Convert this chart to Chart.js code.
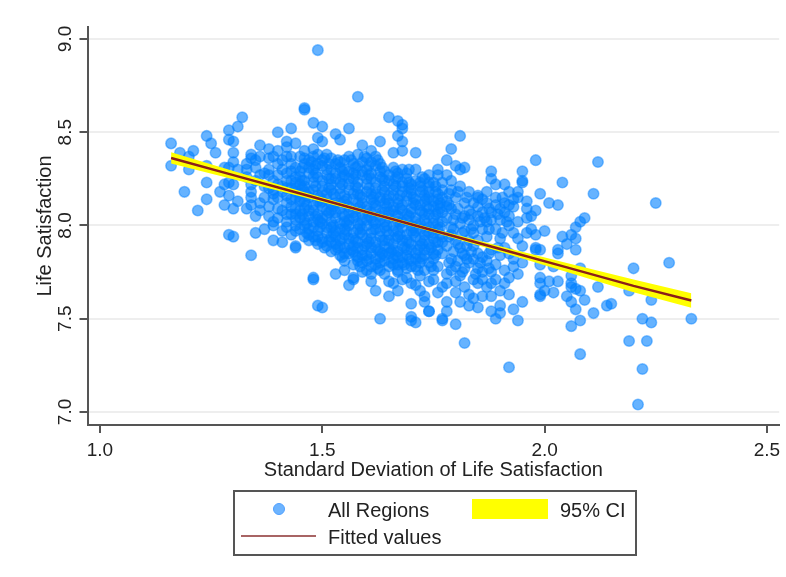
<!DOCTYPE html>
<html>
<head>
<meta charset="utf-8">
<script src="https://cdn.jsdelivr.net/npm/chart.js@4"></script>
<style>
body { margin: 0; background: #fff; font-family: "Liberation Sans", Arial, sans-serif; color: #222; }
#wrap { position: relative; width: 786px; height: 577px; }
#legend { position: absolute; left: 233px; top: 490px; width: 400px; height: 62px; border: 2px solid #555; }
#legend span { position: absolute; font-size: 20px; line-height: 20px; white-space: nowrap; }
.dot { left: 38px; top: 11px; width: 10px; height: 10px; border-radius: 50%; background: #6db4ff; border: 1px solid #4f9fff; }
.ci { left: 237px; top: 7px; width: 76px; height: 20px; background: #ffff00; }
.fit { left: 6px; top: 43px; width: 75px; height: 2px; background: #a86464; }
</style>
</head>
<body>
<div id="wrap">
<canvas id="scatterChart" width="786" height="577"></canvas>
<div id="legend">
  <span class="dot"></span><span style="left:93px;top:8px">All Regions</span>
  <span class="ci"></span><span style="left:325px;top:8px">95% CI</span>
  <span class="fit"></span><span style="left:93px;top:35px">Fitted values</span>
</div>
</div>
<script>
// ticks
const xTicks = [1.0, 1.5, 2.0, 2.5];
const yTicks = [7.0, 7.5, 8.0, 8.5, 9.0];

// fitted line and confidence band
const fitX =    [1.16, 1.30, 1.45, 1.60, 1.75, 1.90, 2.05, 2.20, 2.33];
const fitY =    [8.362, 8.270, 8.171, 8.072, 7.973, 7.874, 7.775, 7.676, 7.598];
const ciLower = [8.332, 8.248, 8.157, 8.063, 7.964, 7.859, 7.751, 7.642, 7.559];
const ciUpper = [8.392, 8.292, 8.185, 8.081, 7.982, 7.889, 7.799, 7.710, 7.637];

// All regions: [sd, life satisfaction]
const outerPoints = [
  [1.49,8.94],[1.58,8.69],[1.46,8.63],[1.46,8.62],[1.32,8.58],[1.31,8.53],[1.29,8.51],[1.29,8.46],[1.30,8.45],
  [1.24,8.48],[1.25,8.44],[1.26,8.39],[1.16,8.44],[1.18,8.39],[1.21,8.40],[1.20,8.37],[1.16,8.32],[1.20,8.30],
  [1.24,8.32],[1.24,8.23],[1.19,8.18],[1.24,8.14],[1.22,8.08],[1.27,8.18],[1.28,8.22],[1.30,8.22],[1.29,8.23],
  [1.29,8.16],[1.28,8.11],[1.30,8.09],[1.31,8.13],[1.33,8.09],[1.35,8.05],[1.36,8.08],[1.34,8.18],[1.34,8.15],
  [1.39,8.17],[1.40,8.50],[1.43,8.52],[1.48,8.55],[1.50,8.53],[1.56,8.52],[1.53,8.49],[1.54,8.46],[1.49,8.47],
  [1.50,8.45],[1.42,8.45],[1.44,8.44],[1.42,8.42],[1.36,8.43],[1.38,8.41],[1.40,8.40],[1.30,8.39],[1.34,8.38],
  [1.59,8.43],[1.61,8.40],[1.63,8.45],[1.65,8.58],[1.67,8.56],[1.68,8.54],[1.68,8.52],[1.67,8.48],[1.68,8.45],
  [1.66,8.39],[1.68,8.40],[1.71,8.39],[1.46,8.40],[1.48,8.41],[1.51,8.38],[1.29,7.95],[1.30,7.94],[1.35,7.96],
  [1.34,7.84],[1.39,7.92],[1.41,7.91],[1.44,7.89],[1.44,7.88],[1.44,8.00],[1.39,8.02],[1.47,7.92],[1.48,7.72],
  [1.48,7.71],[1.49,7.57],[1.50,7.56],[1.53,7.74],[1.55,7.76],[1.56,7.68],[1.57,7.72],[1.57,7.71],[1.61,7.70],
  [1.62,7.65],[1.65,7.62],[1.67,7.65],[1.63,7.50],[1.65,7.70],[1.66,7.69],[1.68,7.71],[1.67,7.76],[1.67,7.75],
  [1.70,7.58],[1.70,7.51],[1.70,7.49],[1.71,7.48],[1.70,7.69],[1.71,7.68],[1.72,7.65],[1.73,7.62],[1.73,7.59],
  [1.74,7.54],[1.63,7.76],[1.60,7.76],[1.61,7.74]
];
const rightPoints = [
  [1.81,8.48],[1.79,8.41],[1.78,8.35],[1.80,8.32],[1.82,8.31],[1.76,8.30],[1.76,8.27],[1.81,8.30],[1.98,8.35],
  [2.12,8.34],[1.88,8.29],[1.95,8.29],[1.88,8.25],[1.95,8.24],[1.95,8.23],[1.89,8.22],[1.91,8.22],[2.04,8.23],
  [1.87,8.18],[1.83,8.18],[1.85,8.16],[1.85,8.15],[1.92,8.18],[1.94,8.18],[1.99,8.17],[2.11,8.17],[2.25,8.12],
  [2.01,8.12],[2.03,8.11],[1.96,8.13],[1.96,8.09],[1.98,8.08],[1.97,8.05],[1.96,8.04],[2.09,8.04],[2.08,8.02],
  [2.07,7.99],[2.00,7.97],[1.97,7.98],[1.96,7.96],[1.98,7.95],[1.94,7.93],[2.04,7.94],[2.06,7.95],[2.07,7.93],
  [2.05,7.90],[2.07,7.87],[2.03,7.87],[2.03,7.85],[1.99,7.87],[1.98,7.88],[1.98,7.87],[1.95,7.89],[2.28,7.80],
  [2.20,7.77],[2.08,7.77],[2.02,7.78],[1.99,7.79],[1.95,7.80],[2.06,7.73],[1.99,7.72],[1.99,7.69],[2.01,7.70],
  [2.03,7.70],[2.06,7.69],[2.07,7.66],[2.08,7.65],[2.06,7.67],[2.02,7.64],[2.00,7.65],[1.99,7.62],[1.99,7.63],
  [2.05,7.62],[2.06,7.59],[2.09,7.60],[2.12,7.67],[2.19,7.65],[2.24,7.60],[2.15,7.58],[2.14,7.57],[2.07,7.55],
  [2.11,7.53],[2.22,7.50],[2.24,7.48],[2.33,7.50],[2.08,7.49],[2.06,7.46],[2.19,7.38],[2.23,7.38],[2.08,7.31],
  [2.22,7.23],[2.21,7.04],[1.92,7.24],[1.82,7.37],[1.80,7.47],[1.77,7.49],[1.77,7.50],[1.94,7.49],[1.89,7.50],
  [1.93,7.55],[1.95,7.59],[1.90,7.53],[1.88,7.54],[1.90,7.57],[1.85,7.56],[1.83,7.57],[1.81,7.59],[1.78,7.54],
  [1.78,7.59],[1.74,7.54],[1.92,7.63],[1.90,7.65],[1.88,7.62],[1.86,7.62],[1.84,7.61],[1.83,7.63],[1.80,7.64],
  [1.76,7.64],[1.91,7.69],[1.87,7.67],[1.77,7.67],[1.94,7.74],[1.89,7.71],[1.86,7.71],[1.84,7.71],[1.82,7.67],
  [1.81,7.73],[1.75,7.71],[1.93,7.78],[1.91,7.76],[1.88,7.75],[1.85,7.77],[1.83,7.80],[1.80,7.78],[1.78,7.74],
  [1.76,7.78],[1.93,7.82],[1.90,7.84],[1.87,7.81],[1.85,7.85],[1.82,7.84],[1.79,7.82],[1.77,7.85],[1.75,7.82],
  [1.84,7.89],[1.81,7.88],[1.78,7.89],[1.76,7.91],[1.88,7.87],[1.91,7.88],[1.83,7.92],[1.80,7.92],
  [1.93,8.14],[1.91,8.12],[1.89,8.15],[1.87,8.12],[1.90,8.09],[1.93,8.10],[1.88,8.07],[1.92,8.05],[1.90,8.03],
  [1.94,8.02],[1.87,8.02],[1.85,8.05],[1.83,8.08],[1.82,8.12],[1.80,8.15],[1.79,8.19],[1.81,8.21],[1.77,8.23],
  [1.85,8.10],[1.83,8.03],[1.80,8.06],[1.78,8.13],[1.76,8.17],[1.74,8.21],[1.92,8.00],[1.89,7.98],[1.86,7.98],
  [1.93,7.96],[1.84,8.00],[1.81,8.01],[1.78,8.04],
  [1.86,8.14],[1.84,8.12],[1.92,8.11],[1.94,8.15],[1.89,8.11],[1.86,8.07],[1.91,8.07],[1.82,8.05],[1.88,8.03],
  [1.84,7.96],[1.82,7.97],[1.87,7.94],[1.90,7.93],[1.85,7.92],[1.92,7.85],[1.86,7.83],[1.89,7.79],[1.84,7.82],
  [1.82,7.77],[1.79,7.76],[1.86,7.75],[1.92,7.72],[1.85,7.69],[1.80,7.70],[1.88,7.69],[1.78,7.69],
  [1.785,8.17],[1.805,8.18],[1.785,8.11],[1.805,8.09],[1.825,8.15],[1.815,8.04],[1.795,8.03],[1.835,8.06],[1.855,8.02],
  [1.795,7.98],[1.815,7.96],[1.835,7.98],[1.785,7.94],[1.805,7.90],[1.825,7.89],[1.795,7.86],[1.815,7.85],[1.835,7.86],
  [1.785,7.80],[1.805,7.81],[1.825,7.82],[1.855,7.80],[1.875,7.85],[1.895,7.88],[1.875,7.77],[1.845,7.74],[1.815,7.75],
  [1.875,8.09],[1.895,8.06],[1.865,8.04],[1.905,8.15],[1.915,8.02],[1.875,7.98],[1.905,7.96]
];
const leftPoints = [
  [1.34,8.36],[1.35,8.35],[1.36,8.37],[1.38,8.36],[1.33,8.33],[1.35,8.31],[1.37,8.28],[1.38,8.27],[1.38,8.30],
  [1.40,8.33],[1.42,8.37],[1.41,8.30],[1.43,8.33],[1.30,8.34],[1.29,8.31],[1.28,8.31],[1.31,8.30],[1.33,8.26],
  [1.35,8.24],[1.34,8.22],[1.37,8.21],[1.39,8.19],[1.40,8.22],[1.42,8.24],[1.41,8.18],[1.43,8.20],[1.37,8.15],
  [1.39,8.14],[1.36,8.12],[1.38,8.10],[1.34,8.11],[1.42,8.12],[1.41,8.08],[1.44,8.15],[1.43,8.06],[1.40,8.04],
  [1.42,8.02],[1.39,8.00],[1.41,7.97],[1.37,7.98],[1.44,8.09],[1.45,8.04],[1.43,7.95],[1.45,7.98],[1.46,7.94],
  [1.39,8.37],[1.41,8.35],[1.43,8.37],[1.40,8.27],[1.42,8.28],[1.44,8.26],[1.39,8.24],[1.41,8.21],[1.38,8.20],
  [1.40,8.15],[1.42,8.16],[1.38,8.05],[1.40,8.09],[1.44,8.03],[1.42,7.99],[1.36,8.27],[1.33,8.30],
  [1.43,8.29],[1.43,8.24],[1.44,8.18],[1.42,8.20],[1.43,8.14],[1.43,8.10],[1.42,8.06],[1.44,8.06],[1.44,7.97],[1.45,8.08],[1.45,8.13],[1.45,8.22]
];
const corePoints = [
  [1.45,8.37],[1.47,8.35],[1.49,8.38],[1.52,8.36],[1.54,8.34],[1.56,8.37],[1.58,8.38],[1.60,8.36],[1.62,8.37],
  [1.44,8.31],[1.46,8.33],[1.48,8.30],[1.50,8.32],[1.52,8.30],[1.54,8.31],[1.56,8.29],[1.58,8.32],[1.60,8.30],[1.62,8.32],[1.64,8.29],[1.66,8.31],[1.68,8.30],[1.71,8.30],[1.74,8.27],[1.78,8.27],
  [1.45,8.26],[1.47,8.28],[1.49,8.26],[1.51,8.27],[1.53,8.25],[1.55,8.27],[1.57,8.25],[1.59,8.27],[1.61,8.25],[1.63,8.26],[1.65,8.24],[1.67,8.26],[1.69,8.25],[1.71,8.24],[1.73,8.25],[1.75,8.23],[1.79,8.24],
  [1.44,8.23],[1.46,8.21],[1.48,8.23],[1.50,8.21],[1.52,8.22],[1.54,8.20],[1.56,8.22],[1.58,8.20],[1.60,8.22],[1.62,8.20],[1.64,8.21],[1.66,8.19],[1.68,8.21],[1.70,8.19],[1.72,8.21],[1.74,8.18],[1.77,8.19],
  [1.45,8.17],[1.47,8.18],[1.49,8.16],[1.51,8.17],[1.53,8.15],[1.55,8.16],[1.57,8.17],[1.59,8.15],[1.61,8.17],[1.63,8.15],[1.65,8.16],[1.67,8.14],[1.69,8.16],[1.71,8.14],[1.73,8.16],[1.75,8.13],[1.77,8.15],
  [1.46,8.13],[1.48,8.11],[1.50,8.13],[1.52,8.11],[1.54,8.12],[1.56,8.10],[1.58,8.12],[1.60,8.10],[1.62,8.11],[1.64,8.12],[1.66,8.10],[1.68,8.11],[1.70,8.09],[1.72,8.11],[1.74,8.09],[1.76,8.11],[1.79,8.09],
  [1.47,8.08],[1.49,8.06],[1.51,8.08],[1.53,8.07],[1.55,8.05],[1.57,8.07],[1.59,8.06],[1.61,8.07],[1.63,8.05],[1.65,8.07],[1.67,8.05],[1.69,8.06],[1.71,8.04],[1.73,8.06],[1.75,8.04],[1.77,8.07],
  [1.46,8.03],[1.48,8.02],[1.50,8.04],[1.52,8.02],[1.54,8.01],[1.56,8.03],[1.58,8.01],[1.60,8.03],[1.62,8.01],[1.64,8.02],[1.66,8.00],[1.68,8.02],[1.70,8.00],[1.72,8.01],[1.74,7.99],[1.76,8.01],[1.79,7.99],
  [1.47,7.98],[1.49,7.97],[1.51,7.99],[1.53,7.97],[1.55,7.98],[1.57,7.96],[1.59,7.98],[1.61,7.96],[1.63,7.97],[1.65,7.95],[1.67,7.97],[1.69,7.95],[1.71,7.97],[1.73,7.95],[1.75,7.96],[1.77,7.94],
  [1.48,7.94],[1.50,7.93],[1.52,7.94],[1.54,7.92],[1.56,7.93],[1.58,7.91],[1.60,7.93],[1.62,7.91],[1.64,7.92],[1.66,7.90],[1.68,7.92],[1.70,7.90],[1.72,7.92],[1.74,7.90],[1.76,7.87],[1.79,7.95],
  [1.49,7.90],[1.51,7.89],[1.53,7.90],[1.55,7.88],[1.57,7.89],[1.59,7.87],[1.61,7.88],[1.63,7.86],[1.65,7.88],[1.67,7.86],[1.69,7.87],[1.71,7.85],[1.73,7.87],[1.75,7.85],
  [1.52,7.86],[1.54,7.84],[1.56,7.85],[1.58,7.83],[1.60,7.84],[1.62,7.82],[1.64,7.84],[1.66,7.82],[1.68,7.83],[1.70,7.81],[1.72,7.83],[1.74,7.80],
  [1.55,7.81],[1.57,7.79],[1.59,7.80],[1.61,7.78],[1.63,7.80],[1.65,7.78],[1.67,7.79],[1.69,7.77],[1.71,7.78],[1.73,7.76],[1.75,7.76],[1.72,7.73],[1.74,7.70],[1.69,7.72],[1.59,7.75],[1.64,7.74]
];
const coreInfill = [
  [1.46,8.36],[1.48,8.37],[1.50,8.35],[1.53,8.33],[1.55,8.35],[1.57,8.33],[1.59,8.34],[1.61,8.34],[1.63,8.33],
  [1.45,8.29],[1.47,8.31],[1.49,8.33],[1.51,8.30],[1.53,8.28],[1.55,8.30],[1.57,8.28],[1.59,8.29],[1.61,8.28],[1.63,8.29],[1.65,8.27],[1.67,8.28],[1.69,8.28],
  [1.44,8.20],[1.46,8.24],[1.48,8.26],[1.50,8.24],[1.52,8.25],[1.54,8.23],[1.56,8.25],[1.58,8.23],[1.60,8.25],[1.62,8.23],[1.64,8.24],[1.66,8.22],[1.68,8.23],[1.70,8.22],[1.72,8.23],[1.74,8.23],
  [1.46,8.18],[1.48,8.19],[1.50,8.18],[1.52,8.19],[1.54,8.17],[1.56,8.19],[1.58,8.17],[1.60,8.18],[1.62,8.17],[1.64,8.18],[1.66,8.16],[1.68,8.18],[1.70,8.17],[1.72,8.18],[1.74,8.15],[1.76,8.14],
  [1.45,8.14],[1.47,8.15],[1.49,8.13],[1.51,8.14],[1.53,8.12],[1.55,8.13],[1.57,8.14],[1.59,8.12],[1.61,8.14],[1.63,8.13],[1.65,8.12],[1.67,8.12],[1.69,8.13],[1.71,8.11],[1.73,8.13],[1.75,8.10],[1.78,8.10],
  [1.46,8.09],[1.48,8.08],[1.50,8.10],[1.52,8.08],[1.54,8.09],[1.56,8.07],[1.58,8.09],[1.60,8.08],[1.62,8.09],[1.64,8.07],[1.66,8.08],[1.68,8.08],[1.70,8.07],[1.72,8.08],[1.74,8.06],[1.76,8.07],
  [1.47,8.05],[1.49,8.03],[1.51,8.05],[1.53,8.04],[1.55,8.02],[1.57,8.04],[1.59,8.03],[1.61,8.04],[1.63,8.03],[1.65,8.04],[1.67,8.02],[1.69,8.03],[1.71,8.02],[1.73,8.03],[1.75,8.01],[1.77,8.02],
  [1.46,8.00],[1.48,7.99],[1.50,8.01],[1.52,7.99],[1.54,7.98],[1.56,8.00],[1.58,7.98],[1.60,8.00],[1.62,7.98],[1.64,7.99],[1.66,7.97],[1.68,7.99],[1.70,7.97],[1.72,7.98],[1.74,7.96],[1.76,7.98],
  [1.47,7.95],[1.49,7.94],[1.51,7.96],[1.53,7.94],[1.55,7.95],[1.57,7.93],[1.59,7.95],[1.61,7.93],[1.63,7.94],[1.65,7.92],[1.67,7.94],[1.69,7.92],[1.71,7.94],[1.73,7.92],[1.75,7.93],[1.77,7.91],
  [1.50,7.91],[1.52,7.91],[1.54,7.89],[1.56,7.90],[1.58,7.88],[1.60,7.90],[1.62,7.88],[1.64,7.89],[1.66,7.87],[1.68,7.89],[1.70,7.87],[1.72,7.89],[1.74,7.87],
  [1.53,7.87],[1.55,7.85],[1.57,7.86],[1.59,7.84],[1.61,7.85],[1.63,7.83],[1.65,7.85],[1.67,7.83],[1.69,7.84],[1.71,7.82],[1.73,7.84],
  [1.58,7.81],[1.60,7.81],[1.62,7.79],[1.64,7.81],[1.66,7.79],[1.68,7.80],[1.70,7.78],[1.72,7.80]
];
const coreThird = [
  [1.475,8.34],[1.505,8.36],[1.535,8.35],[1.565,8.35],[1.595,8.37],[1.625,8.35],
  [1.455,8.31],[1.485,8.32],[1.515,8.33],[1.545,8.29],[1.575,8.31],[1.605,8.32],[1.635,8.31],[1.665,8.29],[1.695,8.30],
  [1.455,8.24],[1.485,8.28],[1.515,8.25],[1.545,8.26],[1.575,8.27],[1.605,8.27],[1.635,8.25],[1.665,8.25],[1.695,8.23],[1.725,8.26],[1.755,8.21],
  [1.455,8.20],[1.485,8.21],[1.515,8.20],[1.545,8.22],[1.575,8.21],[1.605,8.20],[1.635,8.19],[1.665,8.21],[1.695,8.20],[1.725,8.19],[1.755,8.18],
  [1.465,8.16],[1.495,8.15],[1.525,8.17],[1.555,8.14],[1.585,8.16],[1.615,8.15],[1.645,8.14],[1.675,8.16],[1.705,8.15],[1.735,8.14],[1.765,8.12],
  [1.465,8.11],[1.495,8.12],[1.525,8.10],[1.555,8.11],[1.585,8.10],[1.615,8.12],[1.645,8.10],[1.675,8.09],[1.705,8.12],[1.735,8.10],[1.765,8.09],
  [1.455,8.06],[1.485,8.05],[1.515,8.07],[1.545,8.06],[1.575,8.05],[1.605,8.05],[1.635,8.07],[1.665,8.06],[1.695,8.05],[1.725,8.07],[1.755,8.06],
  [1.465,8.01],[1.495,8.02],[1.525,8.00],[1.555,8.01],[1.585,8.00],[1.615,8.02],[1.645,8.00],[1.675,8.01],[1.705,7.99],[1.735,8.01],[1.765,7.99],
  [1.465,7.96],[1.495,7.99],[1.525,7.96],[1.555,7.97],[1.585,7.96],[1.615,7.98],[1.645,7.97],[1.675,7.95],[1.705,7.96],[1.735,7.97],[1.765,7.95],
  [1.485,7.92],[1.515,7.92],[1.545,7.93],[1.575,7.92],[1.605,7.91],[1.635,7.92],[1.665,7.93],[1.695,7.91],[1.725,7.90],[1.755,7.91],
  [1.505,7.88],[1.535,7.88],[1.565,7.87],[1.595,7.89],[1.625,7.87],[1.655,7.86],[1.685,7.88],[1.715,7.87],[1.745,7.88],
  [1.545,7.83],[1.575,7.84],[1.605,7.82],[1.635,7.85],[1.665,7.84],[1.695,7.82],[1.725,7.82],[1.755,7.84],
  [1.585,7.78],[1.625,7.77],[1.655,7.80],[1.685,7.79],[1.715,7.76],[1.745,7.78]
];
const allRegions = [...outerPoints, ...rightPoints, ...leftPoints, ...corePoints, ...coreInfill, ...coreThird];

function pairs(xs, ys) {
  return xs.map((x, i) => ({ x: x, y: ys[i] }));
}

// the last tick label must not push the plot area in
function noLabelPadding(axis) {
  axis.paddingLeft = 0;
  axis.paddingRight = 0;
}

const ctx = document.getElementById('scatterChart').getContext('2d');
const scatterChart = new Chart(ctx, {
  type: 'scatter',
  data: {
    datasets: [
      {
        label: 'Fitted values',
        type: 'line',
        data: pairs(fitX, fitY),
        borderColor: '#8b1f1a',
        borderWidth: 2.5,
        pointRadius: 0,
        order: 0
      },
      {
        label: '95% CI',
        type: 'line',
        data: pairs(fitX, ciUpper),
        borderWidth: 0,
        pointRadius: 0,
        backgroundColor: '#ffff00',
        fill: '+1',
        order: 1
      },
      {
        label: 'CI lower',
        type: 'line',
        data: pairs(fitX, ciLower),
        borderWidth: 0,
        pointRadius: 0,
        order: 1
      },
      {
        label: 'All Regions',
        data: allRegions.map(p => ({ x: p[0], y: p[1] })),
        backgroundColor: 'rgba(0,128,255,0.6)',
        borderColor: 'rgba(0,128,255,0.45)',
        borderWidth: 1.5,
        pointRadius: 5.3,
        order: 2
      }
    ]
  },
  options: {
    responsive: false,
    animation: false,
    layout: { padding: { left: 30, top: 27, right: 5, bottom: 95 } },
    plugins: { legend: { display: false }, tooltip: { enabled: false } },
    scales: {
      x: {
        type: 'linear',
        min: 0.972,
        max: 2.5276,
        afterBuildTicks: axis => { axis.ticks = xTicks.map(v => ({ value: v })); },
        afterFit: axis => { axis.height = 57; noLabelPadding(axis); },
        grid: { color: 'transparent', tickColor: '#555', tickLength: 8, lineWidth: 2 },
        border: { color: '#555', width: 2 },
        ticks: { color: '#222', font: { family: 'Liberation Sans', size: 19 }, padding: 6, maxRotation: 0, callback: v => v.toFixed(1) },
        title: { display: true, text: 'Standard Deviation of Life Satisfaction', color: '#222', font: { family: 'Liberation Sans', size: 20 }, padding: { top: 0, bottom: 0 } }
      },
      y: {
        min: 6.93,
        max: 9.064,
        afterBuildTicks: axis => { axis.ticks = yTicks.map(v => ({ value: v })); },
        afterFit: axis => { axis.width = 57.5; },
        grid: { color: '#eeeeee', tickColor: '#555', tickLength: 8, lineWidth: 2 },
        border: { color: '#555', width: 2 },
        ticks: { color: '#222', font: { family: 'Liberation Sans', size: 19 }, padding: 1, minRotation: 90, maxRotation: 90, crossAlign: 'center', callback: v => v.toFixed(1) },
        title: { display: true, text: 'Life Satisfaction', color: '#222', font: { family: 'Liberation Sans', size: 20 }, padding: { top: 3, bottom: 0 } }
      }
    }
  }
});
</script>
</body>
</html>
